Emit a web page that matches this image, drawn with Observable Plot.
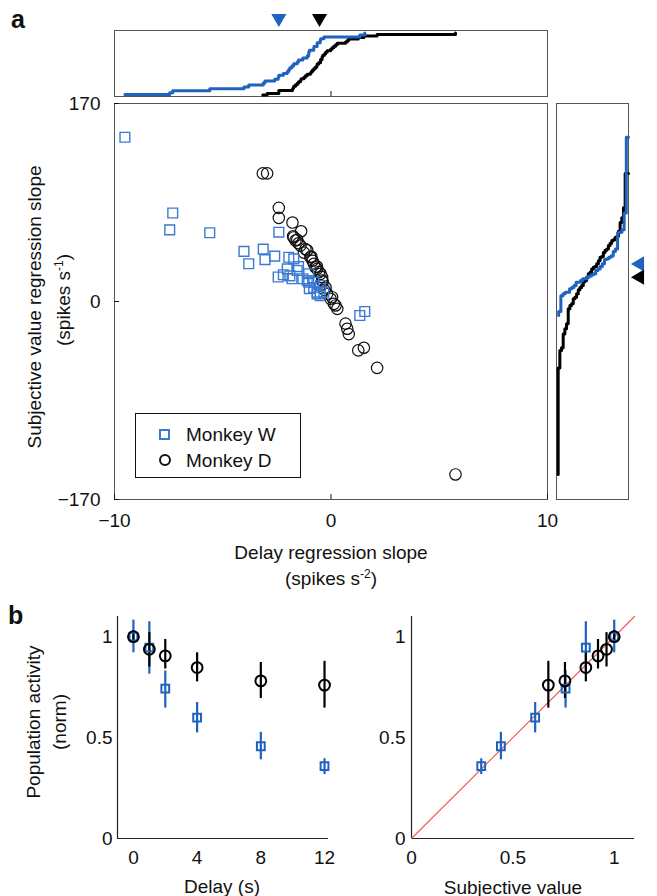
<!DOCTYPE html>
<html><head><meta charset="utf-8">
<script src="https://cdn.jsdelivr.net/npm/d3@7"></script>
<script src="https://cdn.jsdelivr.net/npm/@observablehq/plot@0.6"></script>
<style>
body{margin:0;background:#fff;}
#root{position:relative;width:657px;height:896px;overflow:hidden;font-family:"Liberation Sans",Arial,Helvetica,sans-serif;color:#111;background:#fff;}
.lbl{position:absolute;font-size:19px;line-height:19px;white-space:nowrap;transform:translate(-50%,-50%);}
.rot{transform:translate(-50%,-50%) rotate(-90deg);}
.panel{position:absolute;font-size:25px;line-height:25px;font-weight:bold;}
sup{font-size:12px;line-height:0;vertical-align:7px;}
.legend{position:absolute;left:135px;top:413px;width:166px;height:65px;box-sizing:border-box;border:1.6px solid #111;background:#fff;}
.leg-txt{position:absolute;font-size:19px;line-height:19px;white-space:nowrap;transform:translateY(-50%);}
</style></head><body><div id="root"></div>
<script>
// ---------- Panel a data ----------
const monkeyWDelaySlope = [-9.52,-7.31,-7.45,-5.6,-4.02,-3.8,-3.13,-3.05,-2.6,-2.41,-1.95,-2.44,-2.2,-2.02,-1.8,-1.5,-1.3,-1.03,-1.0,-0.64,-0.48,-1.72,-1.56,-1.1,-1.03,-0.79,-0.64,-0.33,-0.5,1.33,1.56,-1.9,-0.8];
const monkeyWSVSlope    = [141,76,61.5,59,43,32.4,45,36,39,59.5,38,21,23,28,19.5,30,19.5,16.6,11,8,13.7,36.6,26.6,18,23.8,16.6,6.6,8,5,-12,-8.6,22,12];
const monkeyDDelaySlope = [-3.15,-2.95,-2.41,-2.41,-1.78,-1.38,-1.75,-1.64,-1.41,-1.56,-1.72,-1.18,-0.91,-0.79,-0.64,-0.48,-0.41,-0.95,-0.72,-0.56,-0.41,-0.48,-0.18,-0.02,0.13,0.29,0.05,0.21,0.67,0.75,0.82,1.26,1.52,2.13,5.75,-1.5,-1.25,-0.85,-0.3,-1.1,-0.65,-0.38,-0.25];
const monkeyDSVSlope    = [110,110,80.4,71.8,67.8,60.3,56,52.4,48,53,55,45,38.6,32.4,28,23.8,18,38,29.4,25.2,20.9,13.7,6.6,2.3,-2,-6.3,3.7,-3.4,-19,-23.4,-28,-42,-39.7,-57,-148.5,50,42,35,10,44,30,17,12];
const meanDelaySlope = [-2.41, -0.53];   // W, D (triangles on top)
const meanSVSlope    = [32.3, 20.9];     // W, D (triangles on right)
const xDomainA = [-10, 10];
const yDomainA = [-170, 170];
const xTicksA = [-10, 0, 10];
const yTicksA = [-170, 0, 170];

// ---------- Panel b data ----------
const delays = [0, 1, 2, 4, 8, 12];
const wActivity = [1.0, 0.946, 0.743, 0.599, 0.457, 0.359];
const wLow      = [0.92, 0.814, 0.646, 0.523, 0.39, 0.317];
const wHigh     = [1.082, 1.074, 0.83, 0.674, 0.526, 0.395];
const dActivity = [1.0, 0.9375, 0.905, 0.847, 0.781, 0.76];
const dLow      = [0.97, 0.85, 0.84, 0.776, 0.694, 0.646];
const dHigh     = [1.03, 1.02, 0.986, 0.92, 0.872, 0.878];
const wSubjValue = [1.0, 0.86, 0.76, 0.61, 0.441, 0.344];
const dSubjValue = [1.0, 0.962, 0.92, 0.86, 0.757, 0.675];
const delayDomain = [-1, 12.25];
const svDomain = [0, 1.1];
const actDomain = [0, 1.1];
const delayTicks = [0, 4, 8, 12];
const svTicks = [0, 0.5, 1];
const actTicks = [0, 0.5, 1];
const unityLine = [0, 1.1];

// ---------- helpers ----------
const root = document.getElementById("root");
const FONT = "Liberation Sans, Arial, Helvetica, sans-serif";
const BLUE = "#1f62bf";
const BLUE_PT = "#3a7ad3";
const RED = "#ef5646";
const FRAME = "#555";
function place(svg, left, top) {
  svg.style.position = "absolute";
  svg.style.left = left + "px";
  svg.style.top = top + "px";
  root.appendChild(svg);
}
function addLabel(html, cx, cy, cls) {
  const d = document.createElement("div");
  d.className = cls || "lbl";
  d.innerHTML = html;
  d.style.left = cx + "px";
  d.style.top = cy + "px";
  root.appendChild(d);
  return d;
}
function ecdf(vals) {
  const s = [...vals].sort((a, b) => a - b);
  return s.map((v, i) => ({v, F: (i + 1) / s.length}));
}
const triDown = {draw(ctx, size) {
  const a = Math.sqrt(size * 4 / Math.sqrt(3)), h = a * Math.sqrt(3) / 2;
  ctx.moveTo(-a / 2, -h / 2); ctx.lineTo(a / 2, -h / 2); ctx.lineTo(0, h / 2); ctx.closePath();
}};
const triLeft = {draw(ctx, size) {
  const a = Math.sqrt(size * 4 / Math.sqrt(3)), h = a * Math.sqrt(3) / 2;
  ctx.moveTo(h / 2, -a / 2); ctx.lineTo(h / 2, a / 2); ctx.lineTo(-h / 2, 0); ctx.closePath();
}};
const baseStyle = {fontFamily: FONT, fontSize: "19px", color: "#111", background: "transparent", overflow: "visible"};
const fmt = d3.format("~g");

const W = monkeyWDelaySlope.map((x, i) => ({x, y: monkeyWSVSlope[i]}));
const D = monkeyDDelaySlope.map((x, i) => ({x, y: monkeyDSVSlope[i]}));

// ---------- Top marginal (CDF of delay slopes) ----------
place(Plot.plot({
  width: 552, height: 100, marginLeft: 114, marginRight: 5, marginTop: 30, marginBottom: 4,
  style: baseStyle,
  x: {domain: xDomainA}, y: {domain: [0, 1.04], axis: null},
  marks: [
    Plot.frame({stroke: FRAME}),
    Plot.axisX({ticks: [0], tickSize: -5, tickFormat: () => "", label: null}),
    Plot.line(ecdf(monkeyDDelaySlope), {x: "v", y: "F", curve: "step-after", stroke: "#000", strokeWidth: 3}),
    Plot.line(ecdf(monkeyWDelaySlope), {x: "v", y: "F", curve: "step-after", stroke: BLUE, strokeWidth: 3}),
    Plot.dot(meanDelaySlope, {x: d => d, y: () => 1.04, dy: -10, symbol: triDown, r: 5.6,
      fill: (d, i) => i === 0 ? BLUE : "#000", stroke: "none"})
  ]
}), 0, 0);

// ---------- Main scatter ----------
place(Plot.plot({
  width: 552, height: 440, marginLeft: 114, marginRight: 5, marginTop: 3, marginBottom: 41,
  style: baseStyle,
  x: {domain: xDomainA}, y: {domain: yDomainA},
  marks: [
    Plot.frame({stroke: FRAME}),
    Plot.axisX({ticks: xTicksA, tickSize: -5, tickPadding: 19, label: null, fontSize: 19}),
    Plot.axisY({ticks: yTicksA, tickSize: -5, tickPadding: 19, label: null, fontSize: 19}),
    Plot.dot(D, {x: "x", y: "y", r: 5.7, stroke: "#111", strokeWidth: 1.2, fill: "none"}),
    Plot.dot(W, {x: "x", y: "y", symbol: "square", r: 5.5, stroke: BLUE_PT, strokeWidth: 1.4, fill: "none"})
  ]
}), 0, 100);

// ---------- Right marginal (CDF of SV slopes) ----------
place(Plot.plot({
  width: 105, height: 440, marginLeft: 4, marginRight: 29, marginTop: 3, marginBottom: 41,
  style: baseStyle,
  x: {domain: [0, 1], axis: null}, y: {domain: yDomainA, axis: null},
  marks: [
    Plot.frame({stroke: FRAME}),
    Plot.line(ecdf(monkeyDSVSlope), {x: "F", y: "v", curve: "step-before", stroke: "#000", strokeWidth: 3}),
    Plot.line(ecdf(monkeyWSVSlope), {x: "F", y: "v", curve: "step-before", stroke: BLUE, strokeWidth: 3}),
    Plot.dot(meanSVSlope, {x: () => 1, y: d => d, dx: 9, symbol: triLeft, r: 5.6,
      fill: (d, i) => i === 0 ? BLUE : "#000", stroke: "none"})
  ]
}), 552, 100);

// ---------- Panel b: activity vs delay ----------
const bW = delays.map((t, i) => ({t, a: wActivity[i], lo: wLow[i], hi: wHigh[i], sv: wSubjValue[i]}));
const bD = delays.map((t, i) => ({t, a: dActivity[i], lo: dLow[i], hi: dHigh[i], sv: dSubjValue[i]}));

place(Plot.plot({
  width: 340, height: 296, marginLeft: 117, marginRight: 12, marginTop: 16, marginBottom: 58,
  style: baseStyle,
  x: {domain: delayDomain}, y: {domain: actDomain},
  marks: [
    Plot.ruleX([delayDomain[0]], {stroke: "#222", strokeWidth: 1.2}),
    Plot.ruleY([actDomain[0]], {stroke: "#222", strokeWidth: 1.2}),
    Plot.axisX({ticks: delayTicks, tickSize: 0, tickPadding: 12, tickFormat: fmt, label: null, fontSize: 19}),
    Plot.axisY({ticks: actTicks, tickSize: 0, tickPadding: 5, tickFormat: fmt, label: null, fontSize: 19}),
    Plot.ruleX(bW, {x: "t", y1: "lo", y2: "hi", stroke: BLUE, strokeWidth: 2.2}),
    Plot.ruleX(bD, {x: "t", y1: "lo", y2: "hi", stroke: "#000", strokeWidth: 2.2}),
    Plot.dot(bW, {x: "t", y: "a", symbol: "square", r: 4.4, stroke: BLUE, strokeWidth: 2, fill: "none"}),
    Plot.dot(bD, {x: "t", y: "a", r: 5.4, stroke: "#000", strokeWidth: 2, fill: "none"})
  ]
}), 0, 600);

// ---------- Panel b: activity vs subjective value ----------
place(Plot.plot({
  width: 317, height: 296, marginLeft: 71, marginRight: 23, marginTop: 16, marginBottom: 58,
  style: baseStyle,
  x: {domain: svDomain}, y: {domain: actDomain},
  marks: [
    Plot.ruleX([svDomain[0]], {stroke: "#222", strokeWidth: 1.2}),
    Plot.ruleY([actDomain[0]], {stroke: "#222", strokeWidth: 1.2}),
    Plot.axisX({ticks: svTicks, tickSize: 0, tickPadding: 12, tickFormat: fmt, label: null, fontSize: 19}),
    Plot.axisY({ticks: actTicks, tickSize: 0, tickPadding: 6, tickFormat: fmt, label: null, fontSize: 19}),
    Plot.line(unityLine, {x: d => d, y: d => d, stroke: RED, strokeWidth: 1.1}),
    Plot.ruleX(bW, {x: "sv", y1: "lo", y2: "hi", stroke: BLUE, strokeWidth: 2.2}),
    Plot.ruleX(bD, {x: "sv", y1: "lo", y2: "hi", stroke: "#000", strokeWidth: 2.2}),
    Plot.dot(bW, {x: "sv", y: "a", symbol: "square", r: 4.4, stroke: BLUE, strokeWidth: 2, fill: "none"}),
    Plot.dot(bD, {x: "sv", y: "a", r: 5.4, stroke: "#000", strokeWidth: 2, fill: "none"})
  ]
}), 340, 600);

// ---------- Text labels ----------
addLabel("a", 11, 7, "panel");
addLabel("b", 8, 603, "panel");
addLabel("Delay regression slope", 331, 552);
addLabel("(spikes s<sup>-2</sup>)", 331, 578);
addLabel("Subjective value regression slope", 34, 307, "lbl rot");
addLabel("(spikes s<sup>-1</sup>)", 63, 300, "lbl rot");
addLabel("Population activity", 33, 722, "lbl rot");
addLabel("(norm)", 59, 722, "lbl rot");
addLabel("Delay (s)", 222, 886);
addLabel("Subjective value", 513, 887);

// legend
const leg = document.createElement("div");
leg.className = "legend";
root.appendChild(leg);
const sq = document.createElement("div");
Object.assign(sq.style, {position: "absolute", left: "159px", top: "429px", width: "11px", height: "11px", boxSizing: "border-box", border: "2px solid " + BLUE_PT});
root.appendChild(sq);
const ci = document.createElement("div");
Object.assign(ci.style, {position: "absolute", left: "159px", top: "454px", width: "12px", height: "12px", boxSizing: "border-box", border: "2px solid #111", borderRadius: "50%"});
root.appendChild(ci);
const t1 = addLabel("Monkey W", 0, 0, "leg-txt"); t1.style.left = "186px"; t1.style.top = "434px";
const t2 = addLabel("Monkey D", 0, 0, "leg-txt"); t2.style.left = "186px"; t2.style.top = "460px";
</script></body></html>
